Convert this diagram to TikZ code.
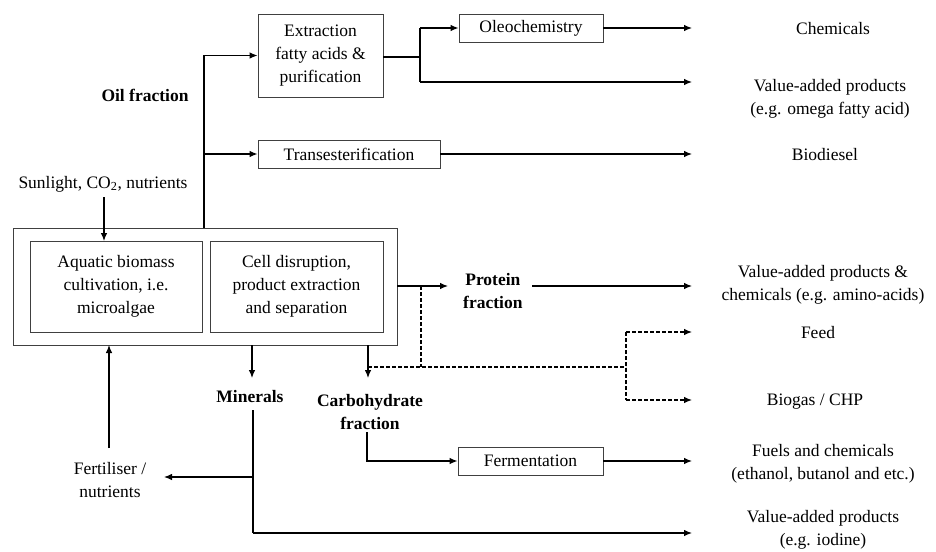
\documentclass[tikz,border=0pt]{standalone}
\usepackage{fontspec}
\setmainfont{Liberation Serif}[UprightFont=*, BoldFont=* Bold]
\usetikzlibrary{arrows.meta}
\begin{document}
\begin{tikzpicture}[x=1pt,y=-1pt,
  every node/.style={font=\rmfamily\fontsize{17.5}{23}\selectfont, inner sep=0pt},
  box/.style={draw=black!75, line width=0.9pt, align=center},
  lbl/.style={align=center},
  blbl/.style={align=center, font=\rmfamily\fontsize{17.5}{23}\selectfont\bfseries},
  arr/.style={line width=1.1pt, -{Latex[length=8pt,width=6.5pt]}},
  ln/.style={line width=1.1pt},
  darr/.style={line width=1.1pt, dashed, dash pattern=on 4pt off 2pt, -{Latex[length=8pt,width=6.5pt]}},
  dln/.style={line width=1.1pt, dashed, dash pattern=on 4pt off 2pt}]
\useasboundingbox (0,0) rectangle (936,551);
% boxes
\node[box, minimum width=384pt, minimum height=117pt] (outer) at (205,286.5) {};
\node[box, minimum width=172pt, minimum height=91pt] (in1) at (116,286.5) {Aquatic biomass\\cultivation, i.e.\\microalgae};
\node[box, minimum width=173pt, minimum height=91pt] (in2) at (296.5,286.5) {Cell disruption,\\product extraction\\and separation};
\node[box, minimum width=125pt, minimum height=83pt] (ext) at (320.5,55.5) {Extraction\\fatty acids \&\\purification};
\node[box, minimum width=182pt, minimum height=28pt] (trans) at (349,154) {Transesterification};
\node[box, minimum width=144pt, minimum height=28pt] (oleo) at (531,28) {Oleochemistry};
\node[box, minimum width=145pt, minimum height=28pt] (ferm) at (530.5,461) {Fermentation};
% labels
\node[lbl] (chem) at (833,29) {Chemicals};
\node[lbl] (vap1) at (830,99) {Value-added products\\(e.g. omega fatty acid)};
\node[lbl] (bio) at (825,155) {Biodiesel};
\node[lbl] (vap2) at (823,285) {Value-added products \&\\chemicals (e.g. amino-acids)};
\node[lbl] (feed) at (818,333) {Feed};
\node[lbl] (biogas) at (815,402) {Biogas / CHP};
\node[lbl] (fuels) at (823,464) {Fuels and chemicals\\(ethanol, butanol and etc.)};
\node[lbl] (vap3) at (823,529.5) {Value-added products\\(e.g. iodine)};
\node[lbl] (sun) at (103,184) {Sunlight, CO\textsubscript{2}, nutrients};
\node[lbl] (fert) at (110,480) {Fertiliser /\\nutrients};
\node[blbl] (oil) at (145,95) {Oil fraction};
\node[blbl, anchor=west] (prot) at (463,291) {Protein\\fraction};
\node[blbl] (carb) at (370,412) {Carbohydrate\\fraction};
\node[blbl] (min) at (250,397) {Minerals};
% coordinates
\coordinate (oilj) at (204,228);
\coordinate (oilt) at (204,154);
\coordinate (extj) at (420,57);
\coordinate (extu) at (420,28);
\coordinate (extd) at (420,82);
\coordinate (vap1a) at (692,82);
\coordinate (chema) at (692,28);
\coordinate (bioa) at (692,154);
\coordinate (protS) at (397,286);
\coordinate (protE) at (448,286);
\coordinate (protA) at (532,286);
\coordinate (vap2a) at (692,286);
\coordinate (dj) at (421,286);
\coordinate (dk) at (421,367);
\coordinate (carbS) at (368,345);
\coordinate (carbE) at (368,378);
\coordinate (carbL) at (368,367);
\coordinate (dsplit) at (626,367);
\coordinate (dtop) at (626,332);
\coordinate (dbot) at (626,400);
\coordinate (feeda) at (692,332);
\coordinate (biogasa) at (692,400);
\coordinate (minS) at (252,345);
\coordinate (minE) at (252,378);
\coordinate (carbO) at (367,432);
\coordinate (fuelsa) at (692,461);
\coordinate (minO) at (253,410);
\coordinate (minC) at (253,533);
\coordinate (vap3a) at (692,533);
\coordinate (minF) at (253,477);
\coordinate (ferta) at (164,477);
\coordinate (fertS) at (109,448);
\coordinate (fertE) at (109,345);
\coordinate (sunS) at (104,197);
\coordinate (sunE) at (104,241);
% connectors
\draw[arr] (oilj) |- (ext.west);
\draw[arr] (oilt) -- (trans.west);
\draw[ln] (ext.east |- extj) -- (extj);
\draw[ln] (extu) -- (extd);
\draw[arr] (extu) -- (oleo.west);
\draw[arr] (extd) -- (vap1a);
\draw[arr] (oleo.east) -- (chema);
\draw[arr] (trans.east) -- (bioa);
\draw[arr] (sunS) -- (sunE);
\draw[arr] (protS) -- (protE);
\draw[arr] (protA) -- (vap2a);
\draw[dln] (dj) -- (dk);
\draw[dln] (carbL) -- (dsplit);
\draw[dln] (dtop) -- (dbot);
\draw[darr] (dtop) -- (feeda);
\draw[darr] (dbot) -- (biogasa);
\draw[arr] (carbS) -- (carbE);
\draw[arr] (minS) -- (minE);
\draw[arr] (carbO) |- (ferm.west);
\draw[arr] (ferm.east) -- (fuelsa);
\draw[ln] (minO) -- (minC);
\draw[arr] (minC) -- (vap3a);
\draw[arr] (minF) -- (ferta);
\draw[arr] (fertS) -- (fertE);
\end{tikzpicture}
\end{document}
